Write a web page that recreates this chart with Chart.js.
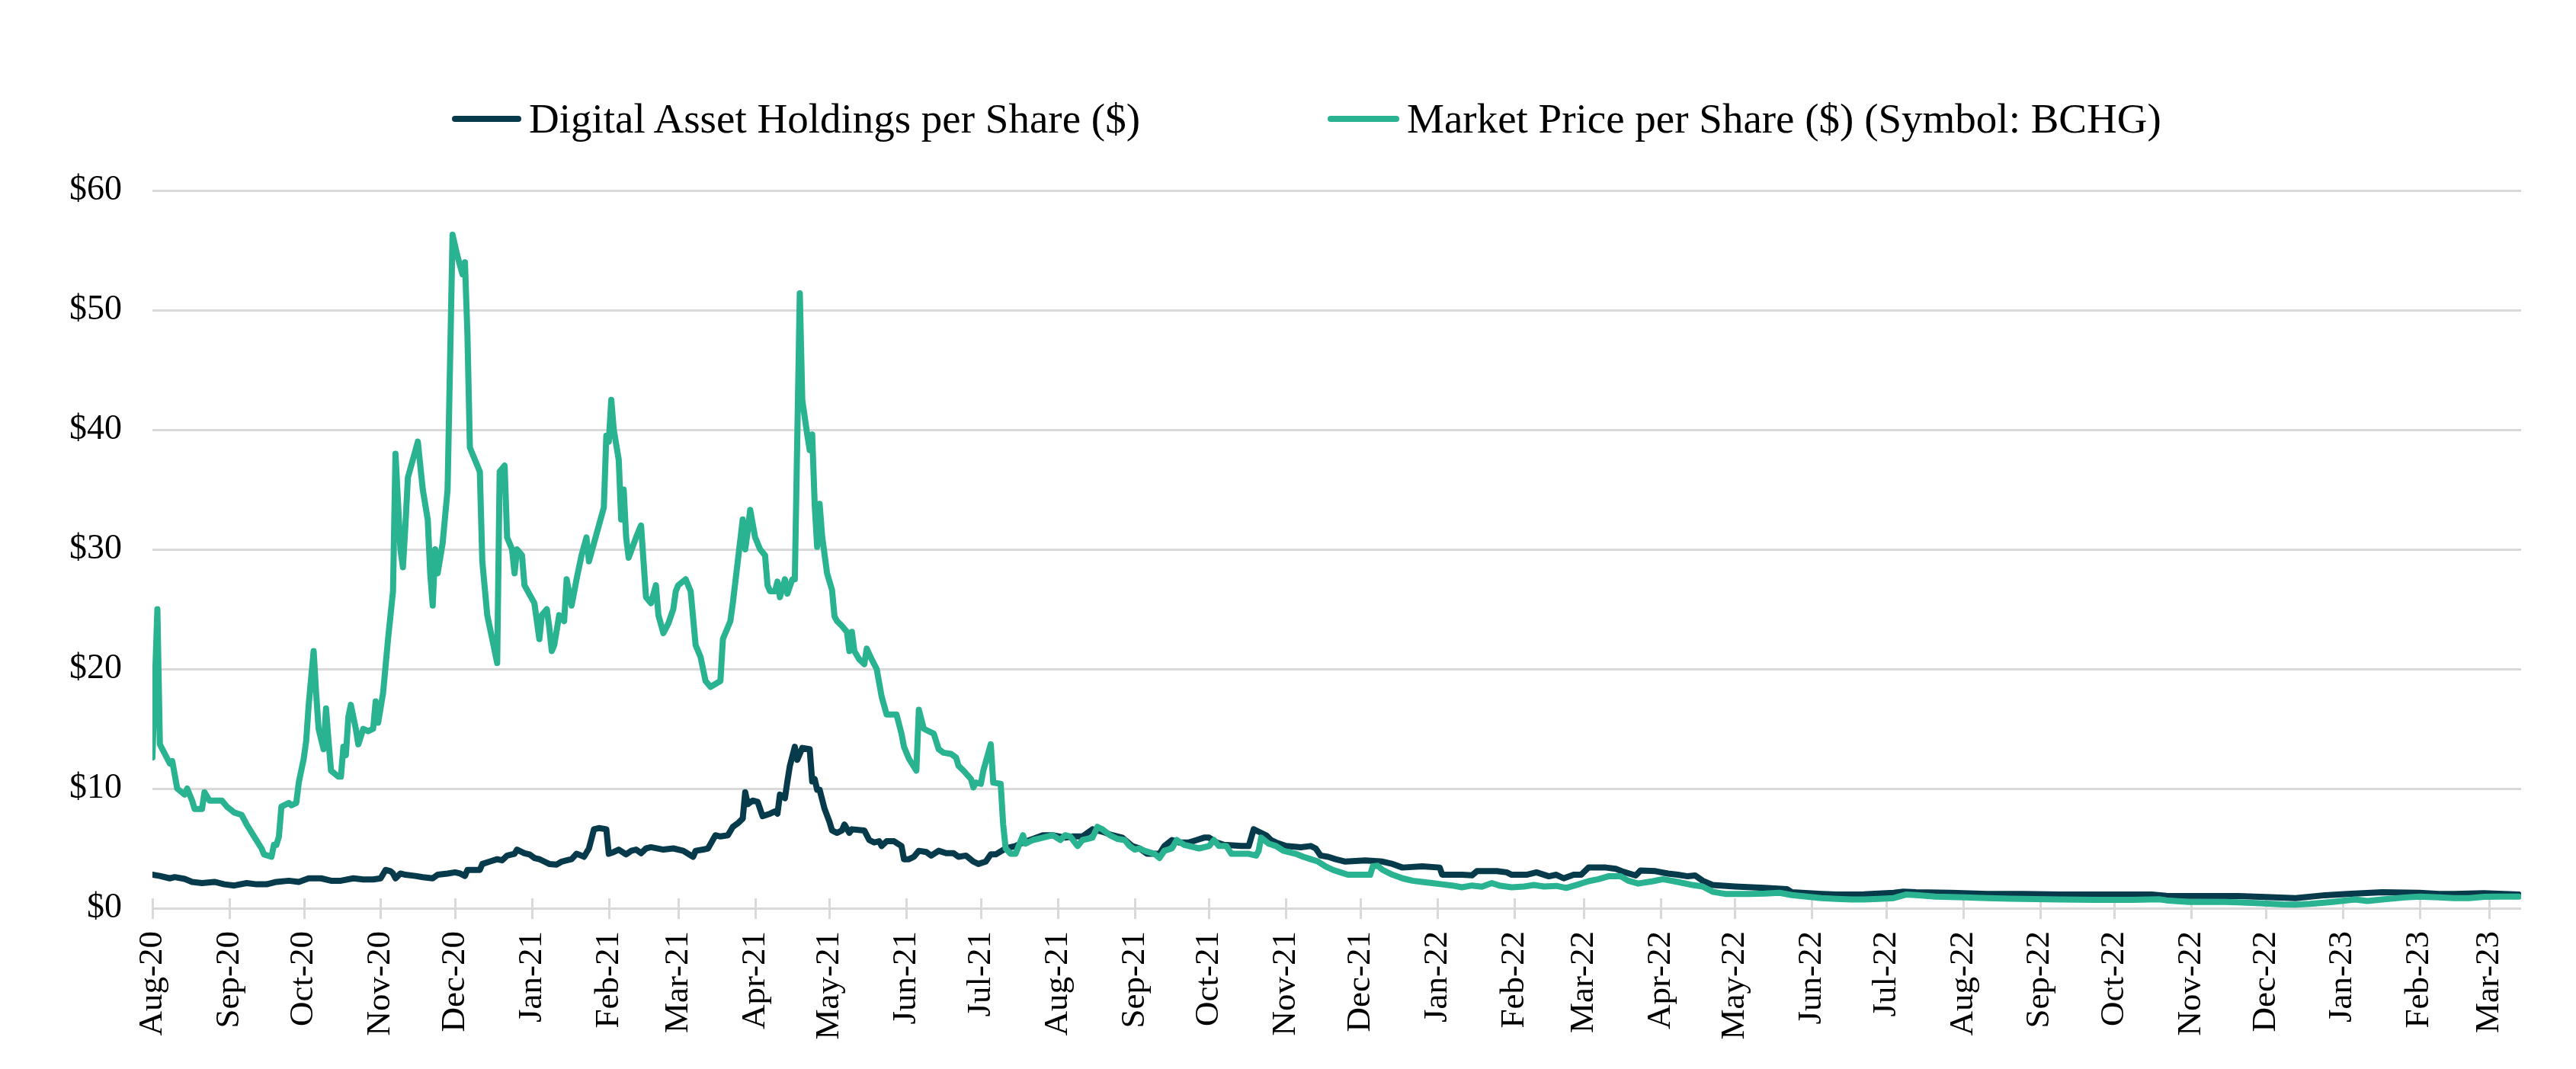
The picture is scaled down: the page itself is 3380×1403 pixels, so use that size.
<!DOCTYPE html>
<html>
<head>
<meta charset="utf-8">
<script src="https://cdn.jsdelivr.net/npm/chart.js@4.4.1/dist/chart.umd.min.js"></script>
<style>
  html, body { margin: 0; padding: 0; background: #ffffff; }
  #wrap { position: relative; width: 3380px; height: 1403px; overflow: hidden; }
  #c { position: absolute; left: 0; top: 0; }
  .lg { position: absolute; top: 125px; height: 61px; display: flex; align-items: center;
        font-family: "Liberation Serif", "Times New Roman", serif; font-size: 55px;
        line-height: 61px; color: #000; white-space: nowrap; }
  .sw { display: inline-block; height: 8px; border-radius: 4px; margin-right: 10px; }
</style>
</head>
<body>
<div id="wrap">
  <canvas id="c" width="3380" height="1403"></canvas>
</div>
<script>
// ---------------- DATA ----------------
// x values are days counted from 1 Aug 2020
const seriesNames = ["Digital Asset Holdings per Share ($)", "Market Price per Share ($) (Symbol: BCHG)"];
const seriesColors = ["#073b4c", "#29b391"];

const tickDays = [0,31,61,92,122,153,184,212,243,273,304,334,365,396,426,457,487,518,549,577,608,638,669,699,730,761,791,822,852,883,914,942];
const tickLabels = ["Aug-20","Sep-20","Oct-20","Nov-20","Dec-20","Jan-21","Feb-21","Mar-21","Apr-21","May-21","Jun-21","Jul-21",
  "Aug-21","Sep-21","Oct-21","Nov-21","Dec-21","Jan-22","Feb-22","Mar-22","Apr-22","May-22","Jun-22","Jul-22",
  "Aug-22","Sep-22","Oct-22","Nov-22","Dec-22","Jan-23","Feb-23","Mar-23"];

const holdingsDays = [
  0,3,7,9,13,16,20,25,29,33,
  38,42,46,50,55,59,63,68,72,76,
  81,85,89,92,94,96,97,98,100,102,
  106,109,113,115,119,122,124,126,127,132,
  133,136,139,141,143,146,147,150,152,154,
  156,158,160,163,165,167,169,171,173,174,
  176,178,180,183,184,186,188,191,193,195,
  197,199,201,206,210,214,218,219,222,224,
  227,229,232,234,236,238,239,240,242,244,
  246,249,251,252,253,255,256,257,259,260,
  262,265,266,267,268,269,271,273,274,276,
  278,279,281,282,287,289,291,293,294,296,
  299,302,303,305,307,309,312,314,317,320,
  323,325,328,331,333,336,338,340,344,348,
  351,355,359,363,368,371,375,379,383,387,
  391,395,398,401,406,408,411,414,418,421,
  424,426,429,432,439,442,444,446,449,451,
  453,457,463,467,469,471,474,477,481,489,
  496,500,504,512,519,520,528,532,534,542,
  546,548,554,558,563,566,569,573,576,579,
  586,590,593,598,600,606,611,615,619,622,
  625,629,638,650,659,661,673,679,690,702,
  706,711,725,740,754,769,783,806,812,841,
  856,864,876,885,899,914,922,928,940,948,
  954
];
const holdingsValues = [
  2.8,2.7,2.5,2.6,2.45,2.2,2.1,2.2,2.0,1.9,
  2.1,2.0,2.0,2.2,2.3,2.2,2.5,2.5,2.3,2.3,
  2.5,2.4,2.4,2.5,3.2,3.1,2.9,2.5,2.9,2.8,
  2.7,2.6,2.5,2.8,2.9,3.0,2.9,2.7,3.2,3.2,
  3.7,3.9,4.1,4.0,4.4,4.55,4.9,4.6,4.5,4.2,
  4.1,3.9,3.7,3.65,3.9,4.0,4.1,4.55,4.4,4.3,
  5.0,6.6,6.7,6.6,4.55,4.7,4.9,4.5,4.8,4.9,
  4.6,5.0,5.1,4.9,5.0,4.8,4.3,4.8,4.9,5.0,
  6.1,6.0,6.1,6.8,7.1,7.5,9.7,8.7,9.0,8.9,
  7.7,7.9,8.1,7.9,9.5,9.2,10.6,11.9,13.5,12.4,
  13.4,13.3,10.6,10.8,9.9,9.9,8.3,7.2,6.5,6.3,
  6.5,7.0,6.3,6.6,6.5,5.7,5.5,5.6,5.2,5.6,
  5.6,5.2,4.1,4.1,4.3,4.8,4.7,4.4,4.8,4.6,
  4.6,4.3,4.4,3.9,3.7,3.9,4.5,4.5,5.0,5.2,
  5.5,5.8,6.1,6.1,5.9,6.0,6.0,6.6,6.4,6.1,
  5.9,5.2,5.0,4.55,4.55,5.2,5.7,5.5,5.5,5.7,
  5.9,5.9,5.5,5.3,5.2,5.2,6.6,6.4,6.1,5.7,
  5.5,5.2,5.1,5.2,5.0,4.4,4.3,4.1,3.9,4.0,
  3.9,3.7,3.4,3.5,3.4,2.8,2.8,2.75,3.1,3.1,
  3.0,2.8,2.8,3.0,2.67,2.8,2.5,2.8,2.8,3.4,
  3.4,3.3,3.05,2.74,3.16,3.1,2.9,2.8,2.67,2.74,
  2.3,1.94,1.82,1.7,1.6,1.33,1.2,1.14,1.17,1.29,
  1.38,1.33,1.29,1.19,1.19,1.14,1.14,1.14,1.04,1.02,
  0.9,0.85,1.09,1.2,1.33,1.29,1.2,1.2,1.26,1.2,
  1.14
];

const marketDays = [
  0,2,3,7,8,10,13,14,16,17,
  20,21,23,28,30,33,36,38,41,44,
  45,48,49,50,51,52,55,56,58,59,
  61,62,63,65,66,67,69,70,71,72,
  75,76,77,78,79,80,82,83,85,87,
  89,90,91,93,95,97,98,100,101,102,
  103,105,107,109,111,112,113,114,115,117,
  119,121,123,125,126,127,128,130,132,133,
  135,137,139,140,142,143,145,146,147,149,
  150,154,156,157,159,160,161,162,164,166,
  167,169,171,173,175,176,178,180,182,183,
  184,185,186,188,189,190,191,192,195,197,
  199,201,203,204,206,208,210,211,212,215,
  217,219,221,223,225,229,230,233,234,236,
  238,239,240,241,243,245,247,248,249,251,
  252,253,255,256,258,259,261,262,264,265,
  266,267,268,269,270,272,274,275,276,278,
  280,281,282,283,285,287,288,290,292,294,
  296,300,302,303,305,308,309,311,315,317,
  319,322,324,325,327,330,331,332,334,335,
  338,339,342,343,344,346,348,351,352,355,
  359,363,366,368,370,373,375,379,381,383,
  386,389,392,394,396,398,400,404,406,408,
  411,413,416,422,426,428,430,433,435,442,
  445,446,447,450,453,456,461,464,467,470,
  473,476,479,482,491,492,494,496,500,504,
  508,512,516,520,524,528,532,536,540,543,
  548,553,557,561,566,570,574,579,583,587,
  592,595,599,605,609,615,621,625,629,634,
  644,650,656,661,667,673,679,685,690,696,
  702,707,711,719,731,740,749,769,783,798,
  809,812,821,835,841,850,859,864,870,879,
  888,893,899,908,914,922,928,934,940,946,
  954
];
const marketValues = [
  12.6,25.0,13.7,12.1,12.3,10.0,9.5,10.0,9.0,8.3,
  8.3,9.7,9.0,9.0,8.5,8.0,7.8,7.0,6.0,5.0,
  4.5,4.3,5.3,5.3,6.0,8.5,8.8,8.6,8.8,10.5,
  12.5,14.0,17.0,21.5,18.0,15.0,13.3,16.7,14.0,11.5,
  11.0,11.0,13.5,12.8,16.0,17.0,15.0,13.7,15.0,14.8,
  15.0,17.3,15.5,18.0,22.5,26.5,38.0,30.0,28.5,32.0,
  36.0,37.5,39.0,35.0,32.5,28.0,25.3,30.0,28.0,30.5,
  35.0,56.3,54.5,53.0,54.0,48.0,38.5,37.5,36.5,29.0,
  24.5,22.5,20.5,36.5,37.0,31.0,30.0,28.0,30.0,29.5,
  27.0,25.5,22.5,24.5,25.0,23.5,21.5,22.0,24.5,24.0,
  27.5,25.3,27.5,29.5,31.0,29.0,30.5,32.0,33.5,39.5,
  39.0,42.5,40.0,37.5,32.5,35.0,31.0,29.3,31.0,32.0,
  26.0,25.5,27.0,24.5,23.0,23.8,25.0,26.5,27.0,27.5,
  26.5,22.0,21.0,19.0,18.5,19.0,22.5,24.0,25.5,29.0,
  32.5,30.0,31.5,33.3,31.0,30.0,29.5,27.0,26.5,26.5,
  27.3,26.0,27.5,26.3,27.5,27.5,51.4,42.5,39.6,38.3,
  39.6,33.8,30.2,33.8,31.1,28.0,26.6,24.4,24.0,23.6,
  23.1,21.5,23.1,21.5,20.8,20.4,21.7,20.8,20.0,17.7,
  16.2,16.2,14.6,13.5,12.5,11.5,16.6,15.0,14.6,13.3,
  13.0,12.9,12.6,11.9,11.5,10.8,10.1,10.5,10.4,11.5,
  13.7,10.5,10.4,7.0,5.0,4.55,4.55,6.1,5.4,5.7,
  5.9,6.1,5.7,6.1,6.0,5.2,5.7,5.9,6.8,6.6,
  6.1,5.8,5.7,5.2,4.9,5.0,4.8,4.55,4.2,4.8,
  5.0,5.7,5.3,5.0,5.2,5.7,5.2,5.2,4.55,4.55,
  4.4,4.8,5.9,5.4,5.2,4.8,4.55,4.3,4.1,3.9,
  3.5,3.2,3.0,2.8,2.8,3.5,3.55,3.2,2.8,2.5,
  2.3,2.2,2.1,2.0,1.9,1.75,1.9,1.8,2.1,1.9,
  1.75,1.82,1.94,1.82,1.87,1.7,1.94,2.26,2.43,2.67,
  2.67,2.3,2.06,2.26,2.43,2.2,1.94,1.82,1.38,1.2,
  1.2,1.23,1.29,1.1,0.97,0.85,0.78,0.73,0.73,0.78,
  0.85,1.14,1.1,0.97,0.9,0.85,0.8,0.73,0.7,0.7,
  0.75,0.66,0.53,0.53,0.49,0.41,0.32,0.3,0.36,0.53,
  0.73,0.6,0.73,0.9,0.97,0.9,0.85,0.85,0.95,0.97,
  0.97
];

// ---------------- LEGEND (HTML text) ----------------
const legendLefts = [593, 1742];
const swatchWidths = [91, 94];
const wrap = document.getElementById('wrap');
seriesNames.forEach((name, i) => {
  const d = document.createElement('div');
  d.className = 'lg';
  d.style.left = legendLefts[i] + 'px';
  const sw = document.createElement('span');
  sw.className = 'sw';
  sw.style.width = swatchWidths[i] + 'px';
  sw.style.background = seriesColors[i];
  const t = document.createElement('span');
  t.textContent = name;
  d.appendChild(sw); d.appendChild(t);
  wrap.appendChild(d);
});

// ---------------- CHART ----------------
const FONT = '"Liberation Serif", "Times New Roman", serif';
const toPoints = (xs, ys) => xs.map((x, i) => ({ x: x, y: ys[i] }));

const tickMarks = {
  id: 'tickMarks',
  beforeDatasetsDraw(chart) {
    const { ctx, scales: { x, y } } = chart;
    const y0 = y.getPixelForValue(0);
    ctx.save();
    ctx.strokeStyle = '#d9d9d9';
    ctx.lineWidth = 3;
    x.ticks.forEach(t => {
      const px = Math.round(x.getPixelForValue(t.value)) + 0.5;
      ctx.beginPath();
      ctx.moveTo(px, y0 - 13);
      ctx.lineTo(px, y0 + 14);
      ctx.stroke();
    });
    ctx.restore();
  }
};

new Chart(document.getElementById('c'), {
  type: 'line',
  data: {
    datasets: [
      {
        label: seriesNames[0],
        data: toPoints(holdingsDays, holdingsValues),
        borderColor: seriesColors[0],
        backgroundColor: seriesColors[0],
        borderWidth: 8, pointRadius: 0, tension: 0,
        borderJoinStyle: 'round', borderCapStyle: 'round',
        order: 2
      },
      {
        label: seriesNames[1],
        data: toPoints(marketDays, marketValues),
        borderColor: seriesColors[1],
        backgroundColor: seriesColors[1],
        borderWidth: 8, pointRadius: 0, tension: 0,
        borderJoinStyle: 'round', borderCapStyle: 'round',
        order: 1
      }
    ]
  },
  options: {
    responsive: false,
    animation: false,
    devicePixelRatio: 1,
    layout: { padding: { top: 250, right: 72, bottom: 0, left: 0 } },
    plugins: { legend: { display: false }, tooltip: { enabled: false } },
    scales: {
      x: {
        type: 'linear',
        min: 0, max: 955,
        afterBuildTicks: s => { s.ticks = tickDays.map(v => ({ value: v })); },
        afterFit: s => { s.height = 211; },
        grid: { display: false, drawTicks: false },
        border: { display: false },
        ticks: {
          autoSkip: false, minRotation: 90, maxRotation: 90, padding: 30,
          color: '#000', font: { family: FONT, size: 45 },
          callback: (v, i) => tickLabels[i]
        }
      },
      y: {
        min: 0, max: 60,
        afterFit: s => { s.width = 200; },
        grid: { color: '#d9d9d9', lineWidth: 3, drawTicks: false },
        border: { display: false },
        ticks: {
          stepSize: 10, padding: 40,
          color: '#000', font: { family: FONT, size: 46 },
          callback: v => '$' + v
        }
      }
    }
  },
  plugins: [tickMarks]
});
</script>
</body>
</html>
